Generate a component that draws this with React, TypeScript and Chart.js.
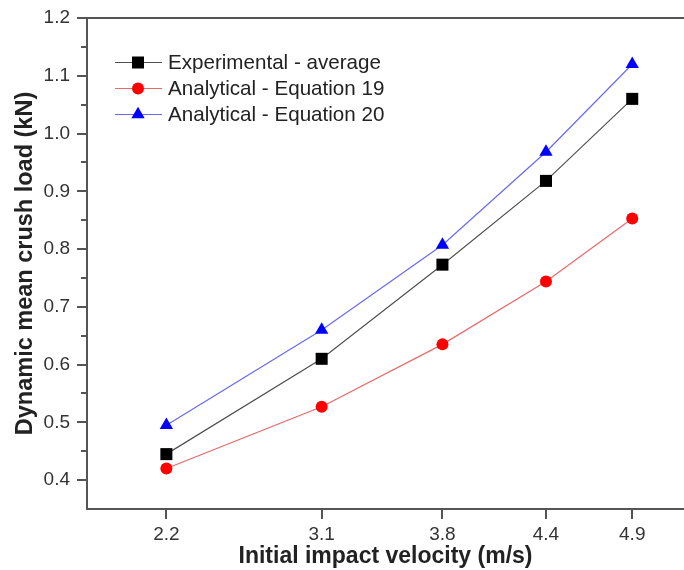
import React, { useEffect, useRef } from "react";
import { Chart, registerables } from "chart.js";

Chart.register(...registerables);

const velocities = [2.2, 3.1, 3.8, 4.4, 4.9];
const experimental = [0.445, 0.61, 0.773, 0.918, 1.06];
const equation19 = [0.42, 0.527, 0.635, 0.744, 0.853];
const equation20 = [0.495, 0.66, 0.807, 0.968, 1.12];
const yTickValues = [0.4, 0.5, 0.6, 0.7, 0.8, 0.9, 1.0, 1.1, 1.2];
const yMinorValues = [0.45, 0.55, 0.65, 0.75, 0.85, 0.95, 1.05, 1.15];
const seriesLabels = ["Experimental - average", "Analytical - Equation 19", "Analytical - Equation 20"];

const FONT = "'Liberation Sans', Arial, sans-serif";

const pts = (ys: number[]) => velocities.map((x, i) => ({ x, y: ys[i] }));

const framePlugin = {
  id: "frame",
  afterDraw(chart: any) {
    const { ctx, chartArea } = chart;
    const xs = chart.scales.x;
    const ys = chart.scales.y;
    ctx.save();
    ctx.strokeStyle = "#555";
    ctx.lineWidth = 2;
    // top frame line
    ctx.beginPath();
    ctx.moveTo(chartArea.left - 1, chartArea.top);
    ctx.lineTo(chartArea.right, chartArea.top);
    ctx.stroke();
    // y ticks
    yTickValues.forEach((v) => {
      const p = Math.round(ys.getPixelForValue(v));
      ctx.beginPath();
      ctx.moveTo(chartArea.left - 10, p);
      ctx.lineTo(chartArea.left, p);
      ctx.stroke();
    });
    yMinorValues.forEach((v) => {
      const p = Math.round(ys.getPixelForValue(v));
      ctx.beginPath();
      ctx.moveTo(chartArea.left - 6, p);
      ctx.lineTo(chartArea.left, p);
      ctx.stroke();
    });
    // x ticks
    velocities.forEach((v) => {
      const p = Math.round(xs.getPixelForValue(v));
      ctx.beginPath();
      ctx.moveTo(p, chartArea.bottom);
      ctx.lineTo(p, chartArea.bottom + 10);
      ctx.stroke();
    });
    // legend
    const ds = chart.data.datasets;
    const rows = [62.5, 88.5, 114.5];
    ctx.font = `20.6px ${FONT}`;
    ctx.textBaseline = "middle";
    ctx.textAlign = "left";
    ds.forEach((d: any, i: number) => {
      const y = rows[i];
      ctx.strokeStyle = d.borderColor;
      ctx.lineWidth = 1.2;
      ctx.beginPath();
      ctx.moveTo(115, y);
      ctx.lineTo(162, y);
      ctx.stroke();
      ctx.fillStyle = d.pointBackgroundColor;
      ctx.beginPath();
      if (d.pointStyle === "rect") {
        ctx.rect(138 - 6, y - 6, 12, 12);
      } else if (d.pointStyle === "circle") {
        ctx.arc(138, y, 6, 0, Math.PI * 2);
      } else {
        const r = 7.7;
        ctx.moveTo(138, y - r);
        ctx.lineTo(138 + r * 0.866, y + r / 2);
        ctx.lineTo(138 - r * 0.866, y + r / 2);
        ctx.closePath();
      }
      ctx.fill();
      ctx.fillStyle = "#222";
      ctx.fillText(seriesLabels[i], 168, y + 1);
    });
    ctx.restore();
  },
};

export default function App() {
  const ref = useRef<HTMLCanvasElement>(null);
  useEffect(() => {
    if (!ref.current) return;
    const chart = new Chart(ref.current, {
      type: "line",
      data: {
        datasets: [
          {
            label: seriesLabels[0],
            data: pts(experimental),
            borderColor: "#505050",
            borderWidth: 1.2,
            pointStyle: "rect",
            pointRadius: 8.5,
            pointBackgroundColor: "#000",
            pointBorderColor: "#000",
            pointBorderWidth: 0,
          },
          {
            label: seriesLabels[1],
            data: pts(equation19),
            borderColor: "#e86a6a",
            borderWidth: 1.2,
            pointStyle: "circle",
            pointRadius: 6,
            pointBackgroundColor: "#ff0000",
            pointBorderColor: "#ff0000",
            pointBorderWidth: 0,
          },
          {
            label: seriesLabels[2],
            data: pts(equation20),
            borderColor: "#6a6af0",
            borderWidth: 1.2,
            pointStyle: "triangle",
            pointRadius: 7.7,
            pointBackgroundColor: "#0000ff",
            pointBorderColor: "#0000ff",
            pointBorderWidth: 0,
          },
        ],
      },
      options: {
        animation: false,
        responsive: false,
        layout: { autoPadding: false, padding: { top: 18, right: 0, left: 0, bottom: 0 } },
        plugins: { legend: { display: false }, tooltip: { enabled: false } },
        scales: {
          x: {
            type: "linear",
            min: 1.74,
            max: 5.2,
            afterFit: (s: any) => {
              s.height = 61;
              s.paddingLeft = 0;
              s.paddingRight = 0;
            },
            afterBuildTicks: (s: any) => {
              s.ticks = velocities.map((v) => ({ value: v }));
            },
            grid: { display: false, drawTicks: false },
            border: { display: true, color: "#555", width: 2 },
            ticks: {
              padding: 14,
              color: "#333",
              font: { family: FONT, size: 19 },
              callback: (v: any) => Number(v).toFixed(1),
              maxRotation: 0,
            },
            title: {
              display: true,
              text: "Initial impact velocity (m/s)",
              color: "#222",
              font: { family: FONT, size: 23, weight: "bold" },
              padding: { top: 0, bottom: 0 },
            },
          },
          y: {
            type: "linear",
            min: 0.35,
            max: 1.2,
            afterFit: (s: any) => {
              s.width = 87;
              s.paddingTop = 0;
              s.paddingBottom = 0;
            },
            afterBuildTicks: (s: any) => {
              s.ticks = yTickValues.map((v) => ({ value: v }));
            },
            grid: { display: false, drawTicks: false },
            border: { display: true, color: "#555", width: 2 },
            ticks: {
              padding: 17,
              color: "#333",
              font: { family: FONT, size: 19 },
              callback: (v: any) => Number(v).toFixed(1),
            },
            title: {
              display: true,
              text: "Dynamic mean crush load (kN)",
              color: "#222",
              font: { family: FONT, size: 23.5, weight: "bold" },
              padding: { top: 11, bottom: 0 },
            },
          },
        },
      },
      plugins: [framePlugin],
    });
    return () => chart.destroy();
  }, []);
  return (
    <div style={{ position: "absolute", left: 0, top: 0, width: 684, height: 570, background: "#fff" }}>
      <canvas ref={ref} width={684} height={570} style={{ display: "block" }} />
    </div>
  );
}
